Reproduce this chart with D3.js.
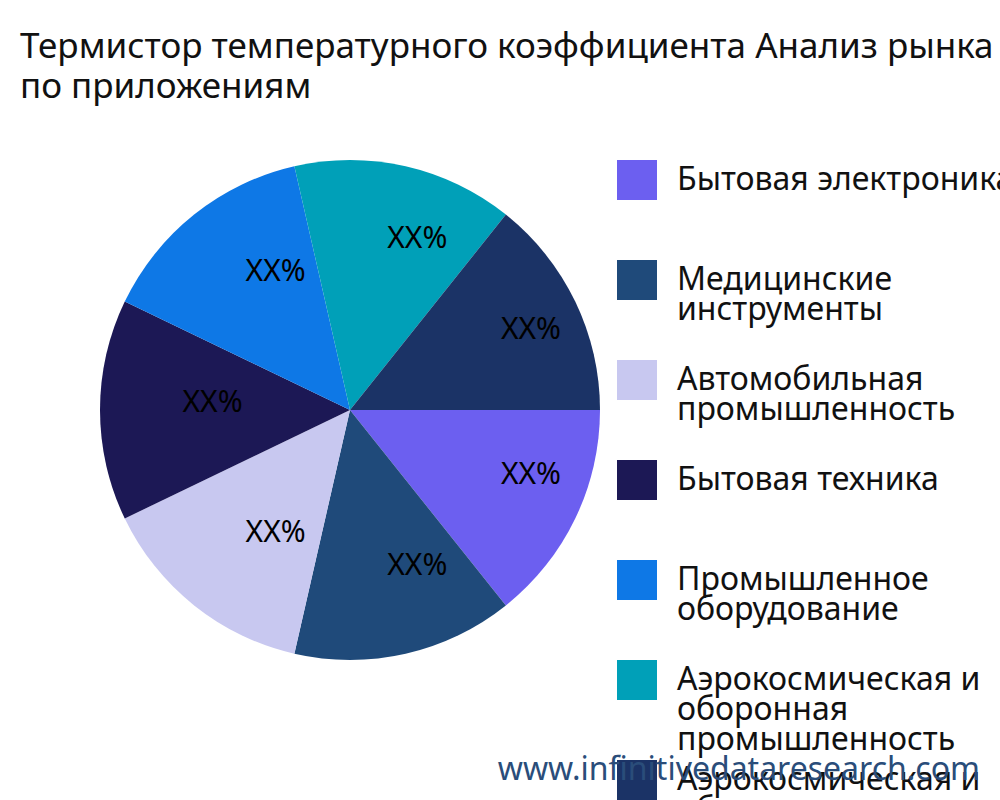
<!DOCTYPE html>
<html>
<head>
<meta charset="utf-8">
<script src="https://d3js.org/d3.v7.min.js"></script>
<style>
  html, body { margin: 0; padding: 0; background: white; }
  svg { font-family: "Noto Sans", "Open Sans", sans-serif; }
</style>
</head>
<body>
<div id="chart"></div>
<script>
// Chart data
const titleLines = ["Термистор температурного коэффициента Анализ рынка", "по приложениям"];
const categories = [
  ["Бытовая электроника"],
  ["Медицинские", "инструменты"],
  ["Автомобильная", "промышленность"],
  ["Бытовая техника"],
  ["Промышленное", "оборудование"],
  ["Аэрокосмическая и", "оборонная", "промышленность"],
  ["Аэрокосмическая и", "оборонная", "промышленность"]
];
const values = [1, 1, 1, 1, 1, 1, 1];
const labels = ["XX%", "XX%", "XX%", "XX%", "XX%", "XX%", "XX%"];
const colors = ["#6c5ff0", "#1f4a7a", "#c8c8f0", "#1c1855", "#0e78e6", "#00a0b8", "#1b3366"];

const width = 1000, height = 800;
const svg = d3.select("#chart").append("svg")
  .attr("width", width).attr("height", height);

svg.append("rect").attr("width", width).attr("height", height).attr("fill", "white");

// Title
svg.append("g").selectAll("text").data(titleLines).join("text")
  .attr("x", 20).attr("y", (d, i) => 58 + i * 40)
  .style("font-size", "35px").attr("fill", "#111")
  .text(d => d);

// Pie: starts at 3 o'clock, clockwise
const cx = 350, cy = 410, r = 250;
const pie = d3.pie().sort(null)
  .startAngle(Math.PI / 2).endAngle(Math.PI / 2 + 2 * Math.PI);
const arc = d3.arc().innerRadius(0).outerRadius(r);
const labelArc = d3.arc().innerRadius(r * 0.67).outerRadius(r * 0.67);

const g = svg.append("g").attr("transform", `translate(${cx},${cy})`);
const arcs = pie(values);

g.selectAll("path").data(arcs).join("path")
  .attr("d", arc)
  .attr("fill", (d, i) => colors[i]);

g.selectAll("text").data(arcs).join("text")
  .attr("transform", d => `translate(${labelArc.centroid(d)})`)
  .attr("text-anchor", "start")
  .attr("dy", "0.05em")
  .style("font-size", "30px")
  .attr("fill", "#000")
  .text((d, i) => labels[i]);

// Legend
const legend = svg.append("g");
categories.forEach((lines, i) => {
  const y = 160 + i * 100;
  legend.append("rect")
    .attr("x", 617).attr("y", y).attr("width", 40).attr("height", 40)
    .attr("fill", colors[i]);
  lines.forEach((t, j) => {
    legend.append("text")
      .attr("x", 677).attr("y", y + 30 + j * 30)
      .style("font-size", "32px").attr("fill", "#111")
      .text(t);
  });
});

// Watermark
svg.append("text")
  .attr("x", 980).attr("y", 780)
  .attr("text-anchor", "end")
  .style("font-size", "32px")
  .attr("fill", "#2a4d7a")
  .text("www.infinitivedataresearch.com");
</script>
</body>
</html>
